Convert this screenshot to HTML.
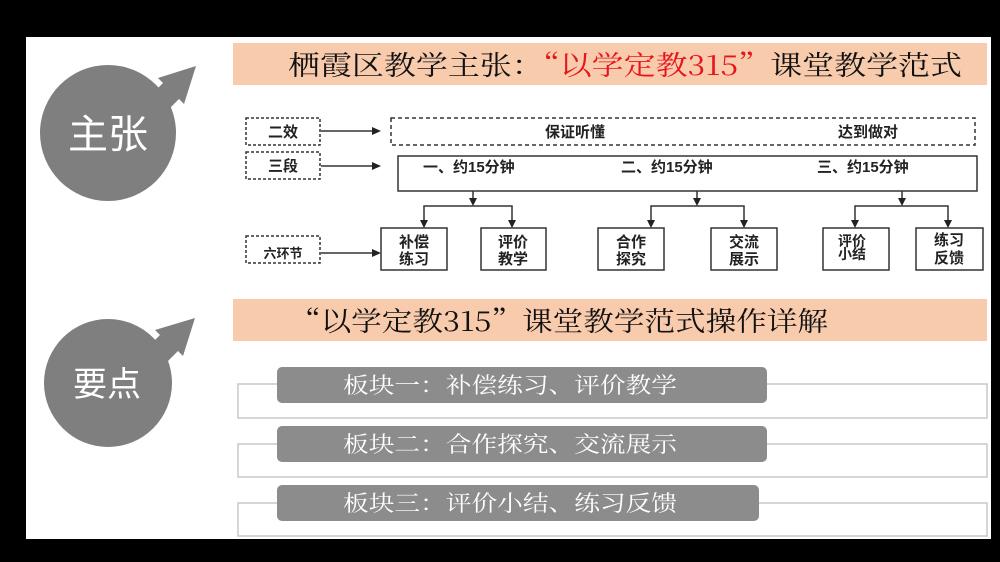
<!DOCTYPE html>
<html><head><meta charset="utf-8"><style>
html,body{margin:0;padding:0;background:#000;}
svg{display:block}
</style></head><body>
<svg width="1000" height="562" viewBox="0 0 1000 562" xmlns="http://www.w3.org/2000/svg">
<rect x="0" y="0" width="1000" height="562" fill="#000"/>
<rect x="26" y="37" width="965" height="502" fill="#fff"/>
<!-- circles -->
<g fill="#7f7f7f">
<circle cx="108" cy="133" r="68"/>
<polygon points="150,96 163,83 158,78 196,66 184,104 179,99 166,112"/>
<circle cx="108" cy="383" r="64"/>
<polygon points="147,348 160,335 155,330 195,318 183,356 178,351 165,364"/>
</g>
<text x="108" y="148" font-family="Noto Sans CJK SC, sans-serif" font-size="40" fill="#fff" text-anchor="middle">主张</text>
<text x="107" y="396" font-family="Noto Sans CJK SC, sans-serif" font-size="34" fill="#fff" text-anchor="middle">要点</text>
<!-- title bars -->
<rect x="233" y="43" width="754" height="42" fill="#f8cbad"/>
<text x="288" y="75" font-family="Noto Serif CJK SC, serif" font-size="27" fill="#111" textLength="674" lengthAdjust="spacingAndGlyphs">栖霞区教学主张：<tspan fill="#e8141b">“以学定教315”</tspan>课堂教学范式</text>
<rect x="233" y="299" width="754" height="42" fill="#f8cbad"/>
<text x="290" y="331" font-family="Noto Serif CJK SC, serif" font-size="27" fill="#111" textLength="538" lengthAdjust="spacingAndGlyphs">“以学定教315”课堂教学范式操作详解</text>
<!-- diagram -->
<g fill="none" stroke="#333" stroke-width="1.5">
<rect x="246" y="118" width="74" height="27" stroke-dasharray="3,2"/>
<rect x="246" y="152" width="74" height="27" stroke-dasharray="3,2"/>
<rect x="246" y="236" width="74" height="27" stroke-dasharray="3,2"/>
<rect x="391" y="118" width="584" height="27" stroke-dasharray="4,3"/>
<rect x="398" y="156" width="579" height="35"/>
<line x1="321" y1="131" x2="374" y2="131"/>
<line x1="321" y1="166" x2="374" y2="166"/>
<line x1="321" y1="253" x2="374" y2="253"/>
<line x1="473" y1="191" x2="473" y2="200"/>
<line x1="697" y1="191" x2="697" y2="200"/>
<line x1="902" y1="191" x2="902" y2="200"/>
<polyline points="424,222 424,206 512,206 512,222"/>
<polyline points="651,222 651,206 744,206 744,222"/>
<polyline points="855,222 855,206 948,206 948,222"/>
<rect x="381" y="228" width="66" height="42"/>
<rect x="481" y="228" width="65" height="42"/>
<rect x="598" y="228" width="66" height="42"/>
<rect x="711" y="228" width="66" height="42"/>
<rect x="823" y="228" width="66" height="42"/>
<rect x="916" y="228" width="67" height="42"/>
</g>
<g fill="#222">
<polygon points="381,131 372,127 372,135"/>
<polygon points="381,166 372,162 372,170"/>
<polygon points="381,253 372,249 372,257"/>
<polygon points="473,206 469,198 477,198"/>
<polygon points="697,206 693,198 701,198"/>
<polygon points="902,206 898,198 906,198"/>
<polygon points="424,228 420,220 428,220"/>
<polygon points="512,228 508,220 516,220"/>
<polygon points="651,228 647,220 655,220"/>
<polygon points="744,228 740,220 748,220"/>
<polygon points="855,228 851,220 859,220"/>
<polygon points="948,228 944,220 952,220"/>
</g>
<g font-family="Liberation Sans, Noto Sans CJK SC, sans-serif" font-weight="bold" fill="#222" font-size="15">
<text x="283" y="137" text-anchor="middle">二效</text>
<text x="283" y="171" text-anchor="middle">三段</text>
<text x="283" y="258" text-anchor="middle" font-size="13">六环节</text>
<text x="575" y="137" text-anchor="middle">保证听懂</text>
<text x="868" y="137" text-anchor="middle">达到做对</text>
<text x="423" y="172">一、约15分钟</text>
<text x="621" y="172">二、约15分钟</text>
<text x="817" y="172">三、约15分钟</text>
<text x="414" y="247" text-anchor="middle">补偿</text><text x="414" y="264" text-anchor="middle">练习</text>
<text x="513" y="247" text-anchor="middle">评价</text><text x="513" y="264" text-anchor="middle">教学</text>
<text x="631" y="247" text-anchor="middle">合作</text><text x="631" y="264" text-anchor="middle">探究</text>
<text x="744" y="247" text-anchor="middle">交流</text><text x="744" y="264" text-anchor="middle">展示</text>
<text x="852" y="246" text-anchor="middle" font-size="14">评价</text><text x="852" y="259" text-anchor="middle" font-size="14">小结</text>
<text x="949" y="245" text-anchor="middle">练习</text><text x="949" y="263" text-anchor="middle">反馈</text>
</g>
<!-- blocks -->
<g fill="none" stroke="#c8c8c8" stroke-width="1.5">
<rect x="238" y="384" width="749" height="34"/>
<rect x="238" y="444" width="749" height="33"/>
<rect x="238" y="503" width="749" height="33"/>
</g>
<g fill="#8c8c8c">
<rect x="277" y="367" width="490" height="36" rx="5"/>
<rect x="277" y="426" width="490" height="36" rx="5"/>
<rect x="277" y="485" width="482" height="36" rx="5"/>
</g>
<g font-family="Noto Serif CJK SC, serif" font-size="22" fill="#fff">
<text x="343" y="393" textLength="334" lengthAdjust="spacingAndGlyphs">板块一：补偿练习、评价教学</text>
<text x="343" y="452" textLength="334" lengthAdjust="spacingAndGlyphs">板块二：合作探究、交流展示</text>
<text x="343" y="511" textLength="334" lengthAdjust="spacingAndGlyphs">板块三：评价小结、练习反馈</text>
</g>
</svg>
</body></html>
